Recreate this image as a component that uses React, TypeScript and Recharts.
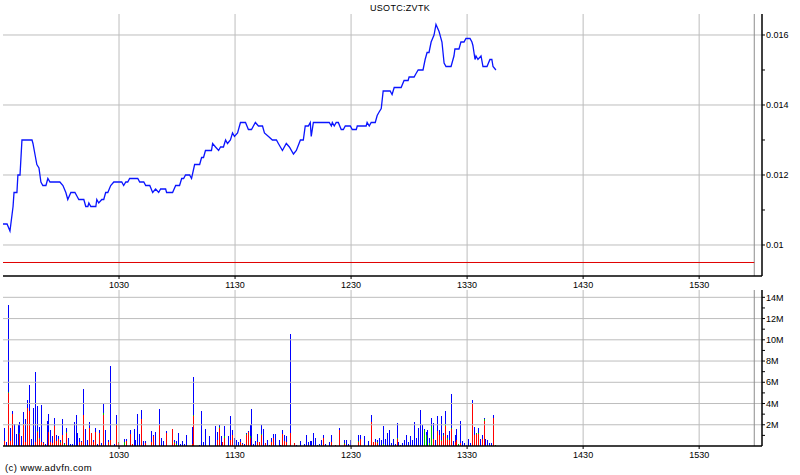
import React from 'react';
import {
  LineChart, Line, BarChart, Bar, XAxis, YAxis, ReferenceLine,
} from 'recharts';

// minutes after 09:30
const priceTimes = [
  0, 2.1, 3.6, 5.2, 5.7, 7.2, 7.7, 8.8, 9.8, 15,
  15.5, 16.5, 17.5, 18.6, 19.6, 20.6, 22.2, 23.2, 24.3, 29.4,
  31, 32.5, 33.5, 35.1, 37.2, 38.2, 39.2, 41.8, 42.8, 43.9,
  44.4, 45.4, 48, 48.5, 49.5, 51.1, 52.1, 53.1, 54.2, 55.7,
  57.3, 61.4, 62.4, 63.5, 64.5, 65.5, 69.7, 70.7, 72.8, 73.8,
  75.9, 77.4, 78.9, 80.5, 81.5, 84.1, 84.6, 87.7, 89.3, 91.3,
  92.4, 93.4, 94.4, 96.5, 97.5, 99.1, 101.7, 102.7, 103.7, 104.7,
  107.8, 108.4, 109.9, 111.5, 112.5, 114, 115.1, 116.1, 117.6, 118.7,
  119.7, 121.3, 122.8, 125.4, 126.9, 128.5, 129.5, 130.5, 132.1, 134.2,
  135.2, 137.3, 139.3, 141.4, 142.4, 144.5, 146.5, 148.1, 150.2, 151.7,
  153.8, 155.3, 156.3, 157.9, 158.9, 159.4, 160.5, 168.7, 169.8, 170.3,
  171.3, 172.3, 173.4, 174.9, 176, 177, 179.6, 180.6, 182.7, 183.2,
  187.8, 188.3, 189.4, 190.4, 192.5, 193.5, 194.5, 195.6, 196.6, 200.2,
  201.2, 202.3, 205.9, 207.4, 209.5, 210, 212.6, 213.6, 214.7, 217.2,
  218.3, 219.3, 220.3, 221.4, 222.9, 223.9, 225.5, 227, 228.1, 229.1,
  231.7, 233.2, 233.7, 235.8, 236.8, 238.4, 239.4, 241.5, 242.5, 243,
  244.1, 244.6, 245.6, 247.2, 248.2, 250.3, 251.8, 252.8, 253.4, 254.9,
];

const prices = [
  0.0106, 0.0106, 0.0104, 0.0111, 0.0115, 0.0115, 0.012, 0.012, 0.013, 0.013,
  0.0129, 0.0126, 0.0123, 0.0122, 0.0118, 0.0117, 0.0117, 0.0119, 0.0118, 0.0118,
  0.0117, 0.0115, 0.0113, 0.0115, 0.0115, 0.0114, 0.0113, 0.0113, 0.0111, 0.0111,
  0.0112, 0.0111, 0.0111, 0.0113, 0.0112, 0.0113, 0.0113, 0.0115, 0.0115, 0.0117,
  0.0118, 0.0118, 0.0117, 0.0118, 0.0118, 0.0119, 0.0119, 0.0118, 0.0118, 0.0117,
  0.0117, 0.0115, 0.0116, 0.0115, 0.0116, 0.0116, 0.0115, 0.0115, 0.0117, 0.0117,
  0.0119, 0.0119, 0.012, 0.012, 0.0119, 0.0123, 0.0123, 0.0125, 0.0125, 0.0127,
  0.0127, 0.0129, 0.0128, 0.0127, 0.0128, 0.0128, 0.013, 0.0129, 0.013, 0.0132,
  0.0131, 0.0132, 0.0135, 0.0135, 0.0133, 0.0133, 0.0134, 0.0135, 0.0134, 0.0134,
  0.0132, 0.0131, 0.013, 0.013, 0.0129, 0.0127, 0.0129, 0.0128, 0.0126, 0.0127,
  0.013, 0.013, 0.0134, 0.0134, 0.0135, 0.0131, 0.0135, 0.0135, 0.0134, 0.0135,
  0.0134, 0.0135, 0.0135, 0.0133, 0.0133, 0.0134, 0.0134, 0.0133, 0.0133, 0.0134,
  0.0134, 0.0135, 0.0134, 0.0135, 0.0135, 0.0137, 0.0138, 0.0139, 0.0144, 0.0144,
  0.0143, 0.0145, 0.0145, 0.0147, 0.0147, 0.0148, 0.0148, 0.0149, 0.015, 0.015,
  0.0153, 0.0155, 0.0155, 0.0158, 0.016, 0.0163, 0.0161, 0.0158, 0.0152, 0.0151,
  0.0151, 0.0154, 0.0156, 0.0156, 0.0158, 0.0158, 0.0159, 0.0159, 0.0158, 0.0157,
  0.0153, 0.0154, 0.0153, 0.0154, 0.0151, 0.0151, 0.0153, 0.0153, 0.0151, 0.015,
];

const prevClose = 0.0095;

// volume per minute, millions (red / green / blue parts of each bar)
const volTimes = [
  0, 1, 2, 3, 4, 5, 6, 7, 8, 9,
  10, 11, 12, 13, 14, 15, 16, 17, 18, 19,
  20, 21, 22, 23, 24, 25, 26, 27, 28, 29,
  30, 31, 32, 33, 34, 35, 36, 37, 38, 39,
  40, 41, 42, 43, 44, 45, 46, 47, 48, 49,
  50, 51, 52, 53, 55, 56, 58, 59, 60, 63,
  64, 66, 67, 68, 69, 70, 71, 72, 73, 74,
  77, 78, 79, 81, 82, 83, 85, 88, 89, 90,
  91, 92, 93, 94, 95, 98, 99, 102, 103, 104,
  105, 107, 110, 111, 112, 113, 114, 115, 117, 118,
  119, 120, 121, 122, 123, 124, 125, 126, 127, 128,
  129, 130, 131, 132, 133, 134, 135, 136, 137, 138,
  139, 140, 141, 143, 144, 145, 146, 147, 149, 151,
  152, 154, 156, 157, 158, 159, 160, 161, 162, 163,
  164, 165, 166, 167, 169, 170, 172, 174, 177, 178,
  179, 180, 184, 185, 187, 189, 191, 192, 193, 194,
  195, 196, 197, 198, 199, 200, 201, 202, 203, 204,
  205, 206, 207, 208, 209, 210, 211, 212, 213, 214,
  215, 216, 217, 218, 219, 220, 221, 222, 223, 224,
  225, 226, 227, 228, 229, 230, 231, 232, 233, 234,
  235, 236, 237, 238, 239, 240, 241, 242, 243, 244,
  245, 246, 247, 248, 249, 250, 251, 252, 253, 254,
  255,
];

const volRed = [
  0.45, 0.45, 0, 5, 0.5, 3, 0, 0, 0, 1.1,
  0, 2.1, 0.35, 3.6, 3.3, 0, 0, 0.4, 1.3, 0.66,
  0.35, 0.3, 0, 0, 1.35, 0.35, 0.25, 1.9, 0.5, 0.66,
  0.3, 1, 0, 1.2, 0, 0, 0, 0, 0, 0,
  0.35, 0.35, 2.95, 0, 0, 1.7, 1.2, 0.4, 1.35, 0,
  1.2, 0, 2.95, 0, 0.35, 0.6, 0, 2, 0.3, 0,
  0.45, 1.1, 0.2, 0, 0, 0, 0, 2.5, 0, 0.3,
  0.4, 0.9, 0, 2, 0, 0, 1.26, 1.6, 0.3, 0,
  0, 0, 0, 0, 0, 0.2, 2.85, 0, 0, 0,
  0, 0, 0, 0.6, 1.7, 0, 0.4, 0.8, 0, 0.6,
  1, 0, 0, 0, 0.4, 0.15, 0, 1, 1.35, 0.8,
  0, 0, 0, 0.4, 0.4, 1, 0, 0.3, 0, 0,
  0.4, 0.8, 0, 0, 0, 1.16, 0.5, 0.4, 1.26, 0.3,
  0, 0, 0, 0, 0, 0, 0, 0, 0, 0,
  0, 0, 0.8, 0, 0, 0.4, 0.1, 1.54, 0.2, 0,
  0, 0, 0.4, 0.7, 0, 0, 2.3, 0.4, 0.4, 0.3,
  0, 0, 0, 0, 0, 0, 0, 0, 0, 0.7,
  0, 0, 0, 0, 0, 0, 0, 0, 0, 0,
  0, 0, 0, 0, 0, 0, 0, 0, 0.66, 0,
  1.45, 1, 0.5, 0.9, 1.9, 0.6, 0.6, 1.6, 0, 0.4,
  0.6, 0, 0.3, 0, 0, 0, 0, 0, 4, 1,
  1.16, 1.16, 0, 0.7, 2.4, 0, 0, 0, 0, 2.67,
  0,
];

const volGreen = [
  4.35, 0, 0, 0.1, 0, 0.05, 0, 0, 0, 0.1,
  0, 0, 0, 0, 0, 0, 0, 0, 0.15, 0.1,
  0, 0, 0, 0, 0, 0, 0, 0, 0, 0,
  0.1, 0, 0.2, 0.1, 0, 0, 0, 0, 0, 0,
  0, 0, 0, 0, 0, 0, 0, 0, 0, 0,
  0, 0, 0.15, 0, 0, 0, 0, 0.1, 0.1, 0.35,
  0, 0, 0, 0, 0, 0, 0, 0, 0, 0,
  0, 0, 0, 0, 0, 0, 0, 0, 0.1, 0.15,
  0, 0, 0, 0, 0, 0, 0.1, 0, 0, 0,
  0, 0, 0, 0, 0.1, 0, 0, 0.1, 0, 0,
  0, 0, 0, 0, 0, 0.05, 0, 0.1, 0, 0.1,
  0, 0, 0, 0, 0, 0.1, 0, 0, 0, 0,
  0, 0, 0, 0, 0, 0, 0, 0, 0, 0,
  0, 0, 0, 0, 0, 0, 0, 0, 0, 0,
  0.1, 0, 0, 0, 0, 0, 0, 0, 0.1, 0,
  0, 0, 0.1, 0, 0, 0, 0, 0, 0, 0.1,
  0, 0, 0.2, 0, 0, 0, 0, 0, 0, 0.1,
  0, 0, 0, 0, 0, 0, 0, 0, 0, 0,
  0, 0, 0, 1.54, 1, 0, 0.3, 1.9, 0, 0,
  0, 0, 0.1, 0.1, 0.2, 0.2, 0, 0.13, 0, 0,
  0, 0.2, 0, 0, 0, 0, 0, 0, 0, 0,
  0.05, 0.1, 0, 0, 0.1, 0, 0, 0, 0, 0,
  0.1,
];

const volBlue = [
  0.5, 1.22, 0.35, 8.2, 1.23, 0.2, 2.1, 1.1, 2, 1.1,
  0.9, 1.1, 2.15, 0.7, 2.4, 0.66, 3.6, 6.6, 2.35, 1.04,
  3.55, 0.1, 0.2, 2.4, 1.7, 1.19, 0.65, 0.7, 0.5, 0.24,
  0.2, 1.5, 0.1, 0.43, 0.8, 0.2, 0.2, 2.3, 2.95, 1.2,
  0.45, 0.15, 2.45, 1.6, 0.6, 0.6, 0, 0.2, 0.35, 0.2,
  0.34, 0.3, 0.9, 1.54, 0.25, 6.9, 0.2, 0.8, 0, 0.35,
  0.25, 0.44, 0, 1.6, 0.6, 3.05, 1.1, 0.9, 0.5, 0.2,
  1.05, 0.1, 1.35, 1.5, 0.8, 0.5, 0.19, 0, 0.2, 0.35,
  1.26, 0.2, 0.5, 0.2, 1, 1.6, 3.55, 0.1, 3.3, 0.4,
  1.6, 0.9, 1.9, 0.75, 0.2, 0.9, 0, 1, 0.9, 2.25,
  0.54, 0.8, 0.6, 0.4, 0.3, 0.1, 0.2, 0.16, 0.1, 1.1,
  3.5, 0.2, 0.5, 0.76, 0, 0.9, 1.6, 0, 0.6, 0.1,
  0.4, 0.36, 1.16, 0.6, 0.1, 0.38, 0.5, 0.5, 9.24, 0,
  0.1, 0.5, 0.2, 1.07, 0.4, 0.5, 0.5, 1.26, 0.8, 0.1,
  0.1, 0.6, 0.27, 0.2, 0.4, 0.6, 0, 0.19, 0.3, 0.6,
  0.2, 0.6, 0.5, 0.37, 0.9, 0.5, 0.65, 0, 0.3, 0.2,
  0.8, 0.6, 1.7, 0.7, 1.26, 1.54, 0.3, 0.7, 0.2, 1.4,
  0.4, 0.1, 0.3, 0.6, 1, 0.4, 0.9, 0.6, 2.3, 0.8,
  1.73, 3.4, 2, 0.1, 0.35, 1.54, 0.5, 0.7, 1.54, 0.6,
  1.35, 0.54, 2.25, 0.26, 1.2, 0.2, 0.85, 3.17, 0.5, 0.67,
  1, 0, 2.1, 0.5, 0.3, 0.1, 0.7, 0.3, 0.37, 0.8,
  0.05, 0.47, 0.7, 0.3, 0.17, 0.7, 0.6, 0.3, 0.3, 0.28,
  0,
];

const hourTicks = [60, 120, 180, 240, 300, 360];
const priceTicks = [0.01, 0.011, 0.012, 0.013, 0.014, 0.015, 0.016];
const priceGrid = [0.01, 0.012, 0.014, 0.016];
const volTicks = [1, 2, 3, 4, 5, 6, 7, 8, 9, 10, 11, 12, 13, 14];
const volGrid = [2, 4, 6, 8, 10, 12, 14];
const sessionEnd = 388.5;

const priceData = priceTimes.map((t, i) => ({ t, price: prices[i] }));
const volData = volTimes.map((t, i) => ({
  t, red: volRed[i], green: volGreen[i], blue: volBlue[i],
}));

const FONT = '"Liberation Sans", Arial, sans-serif';
const GRID = '#bdbdbd';
const X_DOMAIN: [number, number] = [0, 392.5];
const tickStyle = { fontSize: 9, fill: '#000', fontFamily: FONT };

const hourLabel = (m: number) => `${9 + Math.floor((m + 30) / 60)}30`;
const blank = () => '';

const BarShape = (p: any) => {
  if (!p.height || p.height <= 0) return null;
  return (
    <rect x={Math.round(p.x)} y={p.y} width={1} height={p.height}
      fill={p.fill} shapeRendering="crispEdges" />
  );
};

export default function App() {
  const axisLine = { stroke: '#000', strokeWidth: 1.5 };
  const tickLine = { stroke: '#000' };

  return (
    <div style={{ position: 'absolute', left: 0, top: 0, width: 800, height: 475, background: '#fff', fontFamily: FONT }}>
      <div style={{ position: 'absolute', left: 0, top: 4, width: 800, textAlign: 'center', fontSize: 9, lineHeight: '9px', letterSpacing: 0.3 }}>
        USOTC:ZVTK
      </div>

      <div style={{ position: 'absolute', left: 0, top: 0 }}>
        <LineChart width={800} height={290} data={priceData}
          margin={{ top: 14, right: 0, bottom: 0, left: 3 }}>
          <XAxis xAxisId="b" dataKey="t" type="number" domain={X_DOMAIN} allowDataOverflow
            ticks={hourTicks} tickFormatter={hourLabel} height={14}
            tickSize={3} tickMargin={3} axisLine={axisLine} tickLine={tickLine} tick={tickStyle} />
          <XAxis xAxisId="t" orientation="top" dataKey="t" type="number" domain={X_DOMAIN} allowDataOverflow
            ticks={hourTicks} tickFormatter={blank} height={0}
            tickSize={3} axisLine={axisLine} tickLine={tickLine} />
          <YAxis yAxisId="r" orientation="right" type="number" domain={[0.009114, 0.0166]} allowDataOverflow
            ticks={priceTicks} interval={0} width={38} tickSize={3} tickMargin={1}
            tickFormatter={(v: number) => (Math.round(v * 1000) % 2 === 0 ? String(Number(v.toFixed(3))) : '')}
            axisLine={axisLine} tickLine={tickLine} tick={tickStyle} />
          <YAxis yAxisId="l" orientation="left" mirror type="number" domain={[0.009114, 0.0166]} allowDataOverflow
            ticks={priceTicks} interval={0} width={0} tickSize={3} tickFormatter={blank}
            axisLine={axisLine} tickLine={tickLine} />

          {priceGrid.map((v) => (
            <ReferenceLine key={v} xAxisId="b" yAxisId="r" y={v} stroke={GRID} />
          ))}
          {hourTicks.map((m) => (
            <ReferenceLine key={m} xAxisId="b" yAxisId="r" x={m} stroke={GRID} />
          ))}
          <ReferenceLine xAxisId="b" yAxisId="r" x={sessionEnd} stroke="#8c8c8c" />
          <ReferenceLine xAxisId="b" yAxisId="r" stroke="#e00000"
            segment={[{ x: 0, y: prevClose }, { x: sessionEnd, y: prevClose }]} />

          <Line xAxisId="b" yAxisId="r" type="linear" dataKey="price" stroke="#0a14ff"
            strokeWidth={1.3} dot={false} isAnimationActive={false} />
        </LineChart>
      </div>

      <div style={{ position: 'absolute', left: 0, top: 280 }}>
        <BarChart width={800} height={180} data={volData}
          margin={{ top: 10, right: 0, bottom: 0, left: 3 }}>
          <XAxis xAxisId="b" dataKey="t" type="number" domain={X_DOMAIN} allowDataOverflow
            ticks={hourTicks} tickFormatter={hourLabel} height={14}
            tickSize={3} tickMargin={3} axisLine={axisLine} tickLine={tickLine} tick={tickStyle} />
          <XAxis xAxisId="t" orientation="top" dataKey="t" type="number" domain={X_DOMAIN} allowDataOverflow
            ticks={hourTicks} tickFormatter={blank} height={0}
            tickSize={3} axisLine={axisLine} tickLine={tickLine} />
          <YAxis yAxisId="r" orientation="right" type="number" domain={[0, 14.69]} allowDataOverflow
            ticks={volTicks} interval={0} width={38} tickSize={3} tickMargin={1}
            tickFormatter={(v: number) => (v % 2 === 0 ? `${v}M` : '')}
            axisLine={axisLine} tickLine={tickLine} tick={tickStyle} />
          <YAxis yAxisId="l" orientation="left" mirror type="number" domain={[0, 14.69]} allowDataOverflow
            ticks={volTicks} interval={0} width={0} tickSize={3} tickFormatter={blank}
            axisLine={axisLine} tickLine={tickLine} />

          {volGrid.map((v) => (
            <ReferenceLine key={v} xAxisId="b" yAxisId="r" y={v} stroke={GRID} />
          ))}
          {hourTicks.map((m) => (
            <ReferenceLine key={m} xAxisId="b" yAxisId="r" x={m} stroke={GRID} />
          ))}
          <ReferenceLine xAxisId="b" yAxisId="r" x={sessionEnd} stroke="#8c8c8c" />

          <Bar xAxisId="b" yAxisId="r" dataKey="red" stackId="v" fill="#ff0000" barSize={1}
            shape={BarShape} isAnimationActive={false} />
          <Bar xAxisId="b" yAxisId="r" dataKey="green" stackId="v" fill="#00c000" barSize={1}
            shape={BarShape} isAnimationActive={false} />
          <Bar xAxisId="b" yAxisId="r" dataKey="blue" stackId="v" fill="#0000ff" barSize={1}
            shape={BarShape} isAnimationActive={false} />
        </BarChart>
      </div>

      <div style={{ position: 'absolute', left: 5, top: 463, fontSize: 9.5, lineHeight: '9.5px', letterSpacing: 0.4 }}>
        (c) www.advfn.com
      </div>
    </div>
  );
}
